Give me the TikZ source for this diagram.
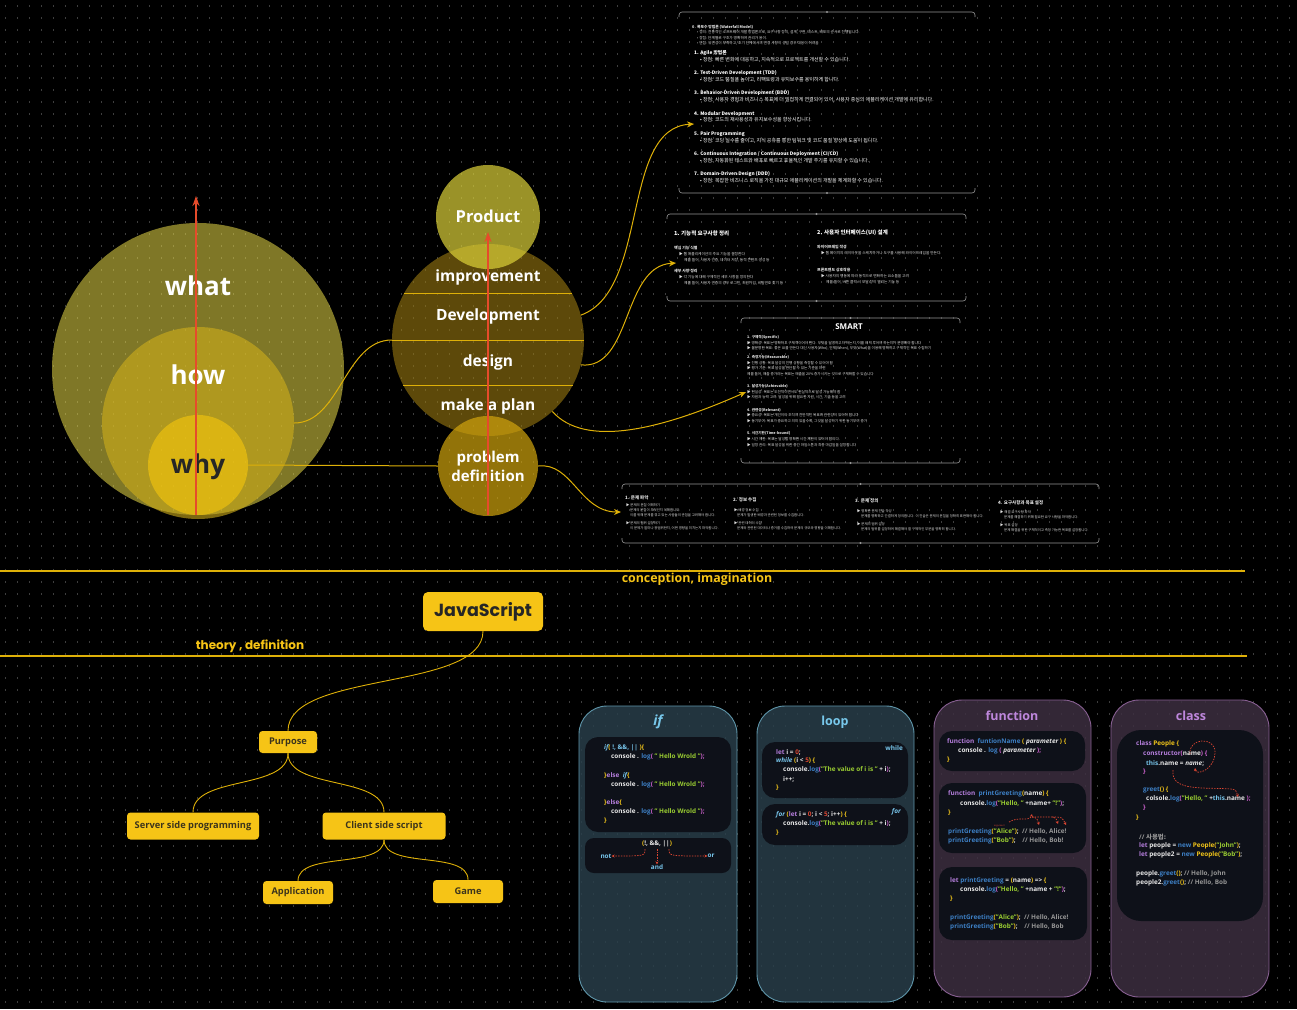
\documentclass[tikz,border=0pt]{standalone}
\usepackage{fontspec}
\setmainfont{Open Sans}
\newfontfamily\pop{Poppins}
\newfontfamily\krf{Noto Sans CJK KR}
\usetikzlibrary{arrows.meta}
\definecolor{dotc}{RGB}{62,62,62}
\definecolor{c1}{RGB}{232,218,72}
\definecolor{c2}{RGB}{208,174,27}
\definecolor{c3}{RGB}{248,200,12}
\definecolor{cmid}{RGB}{155,123,17}
\definecolor{cprod}{RGB}{220,209,57}
\definecolor{cprob}{RGB}{209,164,14}
\definecolor{lyel}{RGB}{222,176,8}
\definecolor{redc}{RGB}{230,75,43}
\definecolor{frm}{RGB}{150,150,150}
\definecolor{ndyel}{RGB}{246,196,22}
\definecolor{ndtxt}{RGB}{60,52,28}
\definecolor{cifbg}{RGB}{40,62,74}
\definecolor{cifbd}{RGB}{95,150,170}
\definecolor{cfnbg}{RGB}{60,46,64}
\definecolor{cfnbd}{RGB}{135,95,145}
\definecolor{codebg}{RGB}{14,17,25}
\definecolor{tifc}{RGB}{120,200,235}
\definecolor{tfnc}{RGB}{190,135,220}
\definecolor{xW}{RGB}{232,232,232}
\definecolor{xB}{RGB}{120,198,236}
\definecolor{xP}{RGB}{181,126,220}
\definecolor{xF}{RGB}{61,127,196}
\definecolor{xG}{RGB}{154,205,50}
\definecolor{xY}{RGB}{240,196,25}
\definecolor{xM}{RGB}{209,99,209}
\definecolor{xR}{RGB}{220,70,50}
\definecolor{xC}{RGB}{150,150,150}
\newcommand\kW[1]{\textcolor{xW}{#1}}
\newcommand\kB[1]{\textcolor{xB}{#1}}
\newcommand\kP[1]{\textcolor{xP}{#1}}
\newcommand\kF[1]{\textcolor{xF}{#1}}
\newcommand\kG[1]{\textcolor{xG}{#1}}
\newcommand\kY[1]{\textcolor{xY}{#1}}
\newcommand\kM[1]{\textcolor{xM}{#1}}
\newcommand\kR[1]{\textcolor{xR}{#1}}
\newcommand\kC[1]{\textcolor{xC}{#1}}
\newcommand\hw{\kW{console . }\kF{log}\kM{ ( }\kG{" Hello Wrold "}\kM{ );}}
\newcommand\myframe[4]{%
  \draw[frm, line width=0.6, rounded corners=3] (#1,#2+5) -- (#1,#2) -- (#3,#2) -- (#3,#2+5);
  \draw[frm, line width=0.6, rounded corners=3] (#1,#4-5) -- (#1,#4) -- (#3,#4) -- (#3,#4-5);
  \fill[frm] ({(#1+#3)/2},#2) circle (1.1);
  \fill[frm] ({(#1+#3)/2},#4) circle (1.1);
}
\begin{document}
\begin{tikzpicture}[x=1pt,y=-1pt,
  circ/.style={circle, inner sep=0, draw=none},
  lab/.style={font=\bfseries\fontsize{15.5}{18}\selectfont, text=white, inner sep=0},
  big/.style={font=\bfseries\fontsize{26}{28}\selectfont, inner sep=0},
  conn/.style={draw=lyel, line width=1},
  conna/.style={conn, -{Stealth[length=7pt,width=6pt]}},
  redar/.style={draw=redc, line width=1.6, -{Stealth[length=10pt,width=7pt]}},
  tx/.style={anchor=west, inner sep=0, text=white, font=\krf\fontsize{5}{6}\selectfont},
  txb/.style={anchor=west, inner sep=0, text=white, font=\krf\bfseries\fontsize{4.8}{5}\selectfont},
  txs/.style={anchor=west, inner sep=0, text=white!88!black, font=\krf\fontsize{3.7}{4}\selectfont},
  txh/.style={anchor=west, inner sep=0, text=white, font=\krf\bfseries\fontsize{5.5}{6}\selectfont},
  sm/.style={txs, font=\krf\fontsize{3.6}{4}\selectfont},
  smb/.style={txs, font=\krf\bfseries\fontsize{3.6}{4}\selectfont},
  bt/.style={txs, font=\krf\fontsize{3.4}{4}\selectfont},
  bth/.style={txs, font=\krf\bfseries\fontsize{4.5}{5}\selectfont},
  ynode/.style={fill=ndyel, rounded corners=3.5, text=ndtxt, inner sep=0, font=\bfseries\fontsize{9.3}{11}\selectfont},
  tline/.style={draw=lyel, line width=0.9},
  secl/.style={draw=lyel, line width=1.8},
  seclab/.style={text=ndyel, inner sep=0, font=\bfseries\fontsize{12.4}{14}\selectfont},
  cardA/.style={fill=cifbg, fill opacity=0.85, draw=cifbd, line width=0.9, rounded corners=28},
  cardB/.style={fill=cfnbg, fill opacity=0.85, draw=cfnbd, line width=0.9, rounded corners=28},
  cbox/.style={fill=codebg, rounded corners=13},
  code/.style={anchor=west, inner sep=0, text=xW, font=\bfseries\fontsize{6.4}{7}\selectfont},
  ctitle/.style={inner sep=0, font=\bfseries\fontsize{12.5}{14}\selectfont},
  reddash/.style={draw=xR, line width=0.7, dash pattern=on 1.5pt off 1.2pt, -{Stealth[length=3pt,width=3pt]}}
]
\fill[black] (0,0) rectangle (1297,1009);
\useasboundingbox (0,0) rectangle (1297,1009);
\foreach \yy in {6,18,...,1009}
  \draw[dotc, line width=1.1pt, dash pattern=on 1.1pt off 10.9pt] (5,\yy) -- (1297,\yy);

% ---------- left circles ----------
\node[circ, minimum size=292pt, fill=c1, fill opacity=.55] (what) at (198,369) {};
\node[circ, minimum size=192pt, fill=c2, fill opacity=.6] (how) at (198,423) {};
\node[circ, minimum size=100pt, fill=c3, fill opacity=.6] (why) at (198,465) {};
\node[big, text=white] (whatl) at (198,286) {what};
\node[big, text=white] (howl) at (198,375) {how};
\node[big, text=black!85] (whyl) at (198,467) {why};
\coordinate (ra1) at (196,515);
\coordinate (ra2) at (196,196);
\draw[redar] (ra1) -- (ra2);

% ---------- middle circles ----------
\node[circ, minimum size=192pt, fill=cmid, fill opacity=.6] (mid) at (488,340) {};
\node[circ, minimum size=104pt, fill=cprod, fill opacity=.7] (prod) at (488,217) {};
\node[circ, minimum size=100pt, fill=cprob, fill opacity=.7] (prob) at (488,466) {};
\coordinate (ch1a) at (404,293); \coordinate (ch1b) at (572,293);
\coordinate (ch2a) at (392,340); \coordinate (ch2b) at (584,340);
\coordinate (ch3a) at (403,385); \coordinate (ch3b) at (573,385);
\draw[lyel, line width=1] (ch1a) -- (ch1b);
\draw[lyel, line width=1] (ch2a) -- (ch2b);
\draw[lyel, line width=1] (ch3a) -- (ch3b);
\node[lab, font=\bfseries\fontsize{16.5}{18}\selectfont] (prodl) at (488,216) {Product};
\node[lab] (impl) at (488,277) {improvement};
\node[lab] (devl) at (488,316) {Development};
\node[lab] (desl) at (488,362) {design};
\node[lab] (mapl) at (488,406) {make a plan};
\node[lab, align=center, font=\bfseries\fontsize{15}{19}\selectfont] (probl) at (488,466) {problem\\definition};
\coordinate (rb1) at (488,515);
\coordinate (rb2) at (488,232);
\draw[redar] (rb1) -- (rb2);

% ---------- connectors ----------
\coordinate (t1) at (694,124);
\coordinate (t2) at (676,263);
\coordinate (t3) at (746,392);
\coordinate (t4) at (621,512);
\draw[conn] (how.east) .. controls (340,423) and (345,340) .. (mid.west);
\draw[conn] (why.east) -- (prob.west);
\draw[conna] (mid.15) .. controls (650,290) and (620,128) .. (t1);
\draw[conna] (mid.-15) .. controls (632,370) and (622,266) .. (t2);
\draw[conna] (mid.-48) .. controls (585,448) and (660,430) .. (t3);
\draw[conna] (prob.east) .. controls (572,462) and (580,512) .. (t4);

% ---------- top text block ----------
\myframe{679}{12}{975}{193}
\node[txs, font=\krf\bfseries\fontsize{3.8}{4}\selectfont] (a0) at (692,27) {0. 폭포수 방법론 (Waterfall Model)};
\node[txs] (a01) at (697,32.5) {• 정의: 전통적인 소프트웨어 개발 방법론으로, 요구사항 정의, 설계, 구현, 테스트, 배포의 순서로 진행됩니다.};
\node[txs] (a02) at (697,38) {• 장점: 단계별로 구조가 명확하여 관리가 용이.};
\node[txs] (a03) at (697,43.5) {• 단점: 유연성이 부족하고, 초기 단계에서의 변경 사항이 생길 경우 대응이 어려움};
\node[txb] (a1) at (694,53) {1. Agile 방법론};
\node[tx] (a11) at (700,60) {• 장점: 빠른 변화에 대응하고, 지속적으로 프로젝트를 개선할 수 있습니다.};
\node[txb] (a2) at (694,73) {2. Test-Driven Development (TDD)};
\node[tx] (a21) at (700,80) {• 장점: 코드 품질을 높이고, 리팩토링과 유지보수를 용이하게 합니다.};
\node[txb] (a3) at (694,93) {3. Behavior-Driven Development (BDD)};
\node[tx] (a31) at (700,100) {• 장점: 사용자 경험과 비즈니스 목표에 더 밀접하게 연결되어 있어, 사용자 중심의 애플리케이션 개발에 유리합니다.};
\node[txb] (a4) at (694,114) {4. Modular Development};
\node[tx] (a41) at (700,120) {• 장점: 코드의 재사용성과 유지보수성을 향상시킵니다.};
\node[txb] (a5) at (694,134) {5. Pair Programming};
\node[tx] (a51) at (700,141) {• 장점: 코딩 실수를 줄이고, 지식 공유를 통한 팀워크 및 코드 품질 향상에 도움이 됩니다.};
\node[txb] (a6) at (694,154) {6. Continuous Integration / Continuous Deployment (CI/CD)};
\node[tx] (a61) at (700,161) {• 장점: 자동화된 테스트와 배포로 빠르고 효율적인 개발 주기를 유지할 수 있습니다.};
\node[txb] (a7) at (694,174) {7. Domain-Driven Design (DDD)};
\node[tx] (a71) at (700,181) {• 장점: 복잡한 비즈니스 로직을 가진 대규모 애플리케이션의 개발을 체계화할 수 있습니다.};

% ---------- middle text block ----------
\myframe{667}{214}{966}{301}
\node[txh] (b1) at (674,233) {1. 기능적 요구사항 정리};
\node[txs, font=\krf\bfseries\fontsize{3.9}{4}\selectfont] (b11) at (674,248) {핵심 기능 식별};
\node[txs] (b12) at (679,254) {▶ 웹 애플리케이션의 주요 기능을 결정한다};
\node[txs] (b13) at (684,260) {예를 들어, 사용자 인증, 데이터 저장, 동적 콘텐츠 생성 등};
\node[txs, font=\krf\bfseries\fontsize{3.9}{4}\selectfont] (b14) at (674,271) {세부 사항 정리};
\node[txs] (b15) at (679,277) {▶ 각 기능에 대해 구체적인 세부 사항을 정의한다};
\node[txs] (b16) at (684,283) {예를 들어, 사용자 인증의 경우 로그인, 회원가입, 비밀번호 찾기 등};
\node[txh] (b2) at (817,233) {2. 사용자 인터페이스(UI) 설계};
\node[txs, font=\krf\bfseries\fontsize{3.9}{4}\selectfont] (b21) at (817,247) {와이어프레임 작성};
\node[txs] (b22) at (821,253) {▶ 웹 페이지의 레이아웃을 스케치하거나 도구를 사용해 와이어프레임을 만든다.};
\node[txs, font=\krf\bfseries\fontsize{3.9}{4}\selectfont] (b23) at (817,270) {프론트엔드 상호작용};
\node[txs] (b24) at (821,276) {▶ 사용자의 행동에 따라 동적으로 변화하는 요소들을 고려};
\node[txs] (b25) at (826,282) {예를 들어, 버튼 클릭 시 모달 창이 열리는 기능 등};

% ---------- SMART block ----------
\myframe{741}{318}{960}{463}
\node[inner sep=0, text=white, font=\bfseries\fontsize{8}{9}\selectfont] (smt) at (849,327) {SMART};
\node[smb] (s1) at (747,337) {1. 구체적(Specific)};
\node[sm] (s11) at (747,343) {▶ 명확성: 목표는 명확하고 구체적이어야 한다. 무엇을 달성하고자 하는지, 이를 왜 이루어야 하는지가 분명해야 합니다};
\node[sm] (s12) at (747,348) {▶ 불분명한 목표: 좋은 UI를 만든다 대신 사용자(Who), 언제(When), 무엇(What)을 이용해 명확하고 구체적인 목표 수립하기};
\node[smb] (s2) at (747,357) {2. 측정가능(Measurable)};
\node[sm] (s21) at (747,363) {▶ 진행 상황: 목표 달성의 진행 상황을 측정할 수 있어야 함};
\node[sm] (s22) at (747,368) {▶ 평가 기준: 목표 달성을 판단할 수 있는 기준을 마련};
\node[sm] (s23) at (747,374) {예를 들어, 매출 증가라는 목표는 매출을 20\% 증가시키는 것으로 구체화할 수 있습니다};
\node[smb] (s3) at (747,386) {3. 달성가능(Achievable)};
\node[sm] (s31) at (747,392) {▶ 현실성: 목표는 도전적이면서도 현실적으로 달성 가능해야 함};
\node[sm] (s32) at (747,397) {▶ 자원과 능력 고려: 달성을 위해 필요한 자원, 시간, 기술 등을 고려};
\node[smb] (s4) at (747,410) {4. 관련성(Relevant)};
\node[sm] (s41) at (747,415) {▶ 중요성: 목표는 개인이나 조직의 전반적인 목표와 관련성이 있어야 합니다};
\node[sm] (s42) at (747,421) {▶ 동기부여: 목표가 중요하고 의미 있을수록, 그것을 달성하기 위한 동기부여 증가};
\node[smb] (s5) at (747,433) {5. 시간기한(Time-bound)};
\node[sm] (s51) at (747,439) {▶ 시간 제한: 목표는 달성할 명확한 시간 제한이 있어야 합니다.};
\node[sm] (s52) at (747,445) {▶ 일정 관리: 목표 달성을 위한 중간 마일스톤과 최종 마감일을 설정합니다};

% ---------- bottom text block ----------
\myframe{622}{484}{1099}{543}
\node[bth] (d1) at (625,498) {1. 문제 파악};
\node[bt] (d11) at (626,505) {▶ 문제의 본질 이해하기};
\node[bt] (d12) at (630,510) {문제의 본질이 무엇인지 이해합니다.};
\node[bt] (d13) at (630,515) {이를 위해 문제를 겪고 있는 사람들의 관점을 고려해야 합니다.};
\node[bt] (d14) at (626,523) {▶ 문제의 범위 설정하기};
\node[bt] (d15) at (630,528) {이 문제가 얼마나 광범위한지, 어떤 영향을 미치는지 파악합니다.};
\node[bth] (d2) at (733,500) {2. 정보 수집};
\node[bt] (d21) at (734,510) {▶ 배경 정보 수집};
\node[bt] (d22) at (737,515) {문제가 발생한 배경과 관련된 정보를 수집합니다.};
\node[bt] (d23) at (734,523) {▶ 관련 데이터 수집};
\node[bt] (d24) at (737,528) {문제와 관련된 데이터나 증거를 수집하여 문제의 규모와 영향을 이해합니다.};
\node[bth] (d3) at (855,501) {3. 문제 정의};
\node[bt] (d31) at (857,511) {▶ 명확한 문제 진술 작성};
\node[bt] (d32) at (861,516) {문제를 명확하고 간결하게 정의합니다. 이 진술은 문제의 본질을 정확히 표현해야 합니다.};
\node[bt] (d33) at (857,524) {▶ 문제의 범위 설정};
\node[bt] (d34) at (861,529) {문제의 범위를 설정하여 해결해야 할 구체적인 부분을 명확히 합니다.};
\node[bth] (d4) at (998,503) {4. 요구사항과 목표 설정};
\node[bt] (d41) at (1000,512) {▶ 해결 요구사항 파악};
\node[bt] (d42) at (1004,517) {문제를 해결하기 위해 필요한 요구 사항을 파악합니다.};
\node[bt] (d43) at (1000,525) {▶ 목표 설정};
\node[bt] (d44) at (1004,530) {문제 해결을 위한 구체적이고 측정 가능한 목표를 설정합니다.};

% ---------- section lines ----------
\coordinate (l1a) at (0,571); \coordinate (l1b) at (1245,571);
\coordinate (l2a) at (0,656); \coordinate (l2b) at (1247,656);
\draw[secl] (l1a) -- (l1b);
\draw[secl] (l2a) -- (l2b);
\node[seclab] (conc) at (697,579) {conception, imagination};
\node[seclab, font=\pop\bfseries\fontsize{12}{14}\selectfont] (theo) at (250,646) {theory , definition};

% ---------- tree ----------
\node[ynode, minimum width=120pt, minimum height=39pt, rounded corners=5, font=\pop\bfseries\fontsize{17.5}{20}\selectfont, text=black!85] (js) at (483,611.5) {JavaScript};
\node[ynode, minimum width=58pt, minimum height=22pt] (purp) at (288,742) {Purpose};
\node[ynode, minimum width=132pt, minimum height=27pt] (serv) at (193,826) {Server side programming};
\node[ynode, minimum width=123pt, minimum height=27pt] (cli) at (384,826) {Client side script};
\node[ynode, minimum width=70pt, minimum height=23pt] (app) at (298,892.5) {Application};
\node[ynode, minimum width=70pt, minimum height=23pt] (game) at (468,891.5) {Game};
\draw[tline] (js.south) .. controls +(0,60) and +(0,-60) .. (purp.north);
\draw[tline] (purp.south) .. controls +(0,37) and +(0,-37) .. (serv.north);
\draw[tline] (purp.south) .. controls +(0,37) and +(0,-37) .. (cli.north);
\draw[tline] (cli.south) .. controls +(0,30) and +(0,-30) .. (app.north);
\draw[tline] (cli.south) .. controls +(0,30) and +(0,-30) .. (game.north);

% ---------- code cards ----------
\draw[cardA] (579,706) rectangle (737,1002);
\draw[cardA] (757,706) rectangle (914,1002);
\draw[cardB] (934,700) rectangle (1091,997);
\draw[cardB] (1111,700) rectangle (1269,997);
\node[ctitle, text=tifc, font=\bfseries\itshape\fontsize{14}{16}\selectfont] (tif) at (658,722) {if};
\node[ctitle, text=tifc] (tloop) at (835,722) {loop};
\node[ctitle, text=tfnc] (tfun) at (1012,716) {function};
\node[ctitle, text=tfnc] (tcls) at (1191,716) {class};

% if
\fill[cbox] (585,737) rectangle (731,832);
\fill[cbox, rounded corners=9] (585,838) rectangle (731,873);
\node[code] (i1) at (604,748) {\kB{\itshape if}\kY{(} \kB{!, \&\&, ||} \kY{)\{}};
\node[code] (i2) at (611,757) {\hw};
\node[code] (i3) at (604,776) {\kY{\}}\kP{else}~~\kB{\itshape if}\kY{\{}};
\node[code] (i4) at (611,785) {\hw};
\node[code] (i5) at (604,803) {\kY{\}}\kP{else}\kY{\{}};
\node[code] (i6) at (611,812) {\hw};
\node[code] (i7) at (604,821) {\kY{\}}};
\node[code, anchor=center] (o1) at (657,844) {\kY{(}\kW{!, \&\&, ||}\kY{)}};
\node[code, anchor=center, text=xB] (onot) at (606,856) {not};
\node[code, anchor=center, text=xB] (oor) at (711,856) {or};
\node[code, anchor=center, text=xB] (oand) at (657,867) {and};
\draw[reddash] (645,849) .. controls (645,856) .. (onot.east);
\draw[reddash] (657,849) -- (oand.north);
\draw[reddash] (669,849) .. controls (669,856) .. (oor.west);

% loop
\fill[cbox] (762,742) rectangle (908,798);
\fill[cbox] (762,804) rectangle (908,845);
\node[code] (p1) at (776,752) {\kP{let} \kW{i =} \kR{0}\kW{;}};
\node[code] (p2) at (776,761) {\kB{\itshape while} \kY{(}\kW{i <} \kR{5}\kY{)} \kY{\{}};
\node[code] (p3) at (783,770) {\kW{console.}\kF{log}\kM{(}\kG{"The value of i is "} \kW{+ i}\kM{)}\kW{;}};
\node[code] (p4) at (783,779) {\kW{i++;}};
\node[code] (p5) at (776,788) {\kY{\}}};
\node[code, anchor=east, text=xB] (pw) at (903,748) {while};
\node[code, anchor=east, text=xB, font=\bfseries\itshape\fontsize{6.5}{7}\selectfont] (pf) at (901,812) {for};
\node[code] (q1) at (776,815) {\kB{\itshape for} \kY{(}\kP{let} \kW{i =} \kR{0}\kW{; i <} \kR{5}\kW{; i++}\kY{)} \kY{\{}};
\node[code] (q2) at (783,824) {\kW{console.}\kF{log}\kM{(}\kG{"The value of i is "} \kW{+ i}\kM{)}\kW{;}};
\node[code] (q3) at (776,833) {\kY{\}}};

% function
\fill[cbox] (939,731) rectangle (1085,771);
\fill[cbox] (939,783) rectangle (1086,853);
\fill[cbox] (939,867) rectangle (1087,940);
\node[code] (f1) at (947,742) {\kP{function}~~\kF{funtionName} \kY{(} \kW{\itshape parameter} \kY{) \{}};
\node[code] (f2) at (958,751) {\kW{console . }\kF{log} \kM{(} \kW{\itshape parameter} \kM{);}};
\node[code] (f3) at (947,760) {\kY{\}}};
\node[code] (g1) at (948,794) {\kP{function}~~\kF{printGreeting}\kY{(}\kW{name}\kY{) \{}};
\node[code] (g2) at (960,804) {\kW{console.}\kF{log}\kM{(}\kG{"Hello, "} \kW{+name+} \kG{"!"}\kM{)}\kW{;}};
\node[code] (g3) at (948,813) {\kY{\}}};
\node[code] (g4) at (948,832) {\kF{printGreeting}\kY{(}\kG{"Alice"}\kY{)}\kW{;}~~\kC{// Hello, Alice!}};
\node[code] (g5) at (948,841) {\kF{printGreeting}\kY{(}\kG{"Bob"}\kY{)}\kW{;}~~~~\kC{// Hello, Bob!}};
\node[code, text=xR, font=\fontsize{2.3}{3}\selectfont] (garg) at (994,826.5) {argument};
\coordinate (gs) at (1009,822);
\coordinate (gu) at (1032,814);
\coordinate (gd1) at (1039,825);
\coordinate (gd2) at (1058,824);
\coordinate (gd3) at (1066,825);
\draw[reddash] (gs) .. controls (1018,816) and (1030,822) .. (gu);
\draw[reddash] (1032,817) .. controls (1037,818) .. (gd1);
\draw[reddash] (1032,817) -- (1052,817) .. controls (1056,818) .. (gd2);
\draw[reddash] (1052,817) .. controls (1062,817) .. (gd3);
\node[code] (h1) at (950,881) {\kP{let} \kF{printGreeting} \kW{=} \kY{(}\kW{name}\kY{)} \kW{=>} \kY{\{}};
\node[code] (h2) at (960,890) {\kW{console.}\kF{log}\kM{(}\kG{"Hello, "} \kW{+name +} \kG{"!"}\kM{)}\kW{;}};
\node[code] (h3) at (950,899) {\kY{\}}};
\node[code] (h4) at (950,918) {\kF{printGreeting}\kY{(}\kG{"Alice"}\kY{)}\kW{;}~~\kC{// Hello, Alice!}};
\node[code] (h5) at (950,927) {\kF{printGreeting}\kY{(}\kG{"Bob"}\kY{)}\kW{;}~~~~\kC{// Hello, Bob}};

% class
\fill[cbox, rounded corners=24] (1117,730) rectangle (1263,921);
\node[code] (k1) at (1136,744) {\kP{class} \kY{People \{}};
\node[code] (k2) at (1143,754) {\kP{constructor}\kM{(}\kW{name}\kM{) \{}};
\node[code] (k3) at (1146,763) {\kB{this}\kW{.name =} \kW{\itshape name}\kW{;}};
\node[code] (k4) at (1143,772) {\kM{\}}};
\node[code] (k5) at (1143,790) {\kF{greet}\kY{()} \kY{\{}};
\node[code] (k6) at (1146,799) {\kW{colsole.}\kF{log}\kM{(}\kG{"Hello, "} \kW{+}\kB{this}\kW{.name} \kM{);}};
\node[code] (k7) at (1143,808) {\kM{\}}};
\node[code] (k8) at (1136,818) {\kY{\}}};
\node[code] (k9) at (1139,837) {\kC{// {\krf 사용법:}}};
\node[code] (k10) at (1139,846) {\kP{let} \kW{people =} \kF{new} \kY{People(}\kG{"John"}\kY{)}\kW{;}};
\node[code] (k11) at (1139,855) {\kP{let} \kW{people2 =} \kF{new} \kY{People(}\kG{"Bob"}\kY{)}\kW{;}};
\node[code] (k12) at (1136,874) {\kW{people.}\kF{greet}\kY{()}\kW{;} \kC{// Hello, John}};
\node[code] (k13) at (1136,883) {\kW{people2.}\kF{greet}\kY{()}\kW{;} \kC{// Hello, Bob}};
\coordinate (cs1) at (1190,754);
\coordinate (ce1) at (1195,768);
\coordinate (cs2) at (1173,770);
\coordinate (ce2) at (1238,797);
\draw[reddash] (cs1) .. controls (1188,738) and (1215,736) .. (1215,752) .. controls (1215,770) and (1196,776) .. (ce1);
\draw[reddash] (cs2) .. controls (1170,792) and (1205,787) .. (1231,789) .. controls (1236,790) .. (ce2);
\end{tikzpicture}
\end{document}
